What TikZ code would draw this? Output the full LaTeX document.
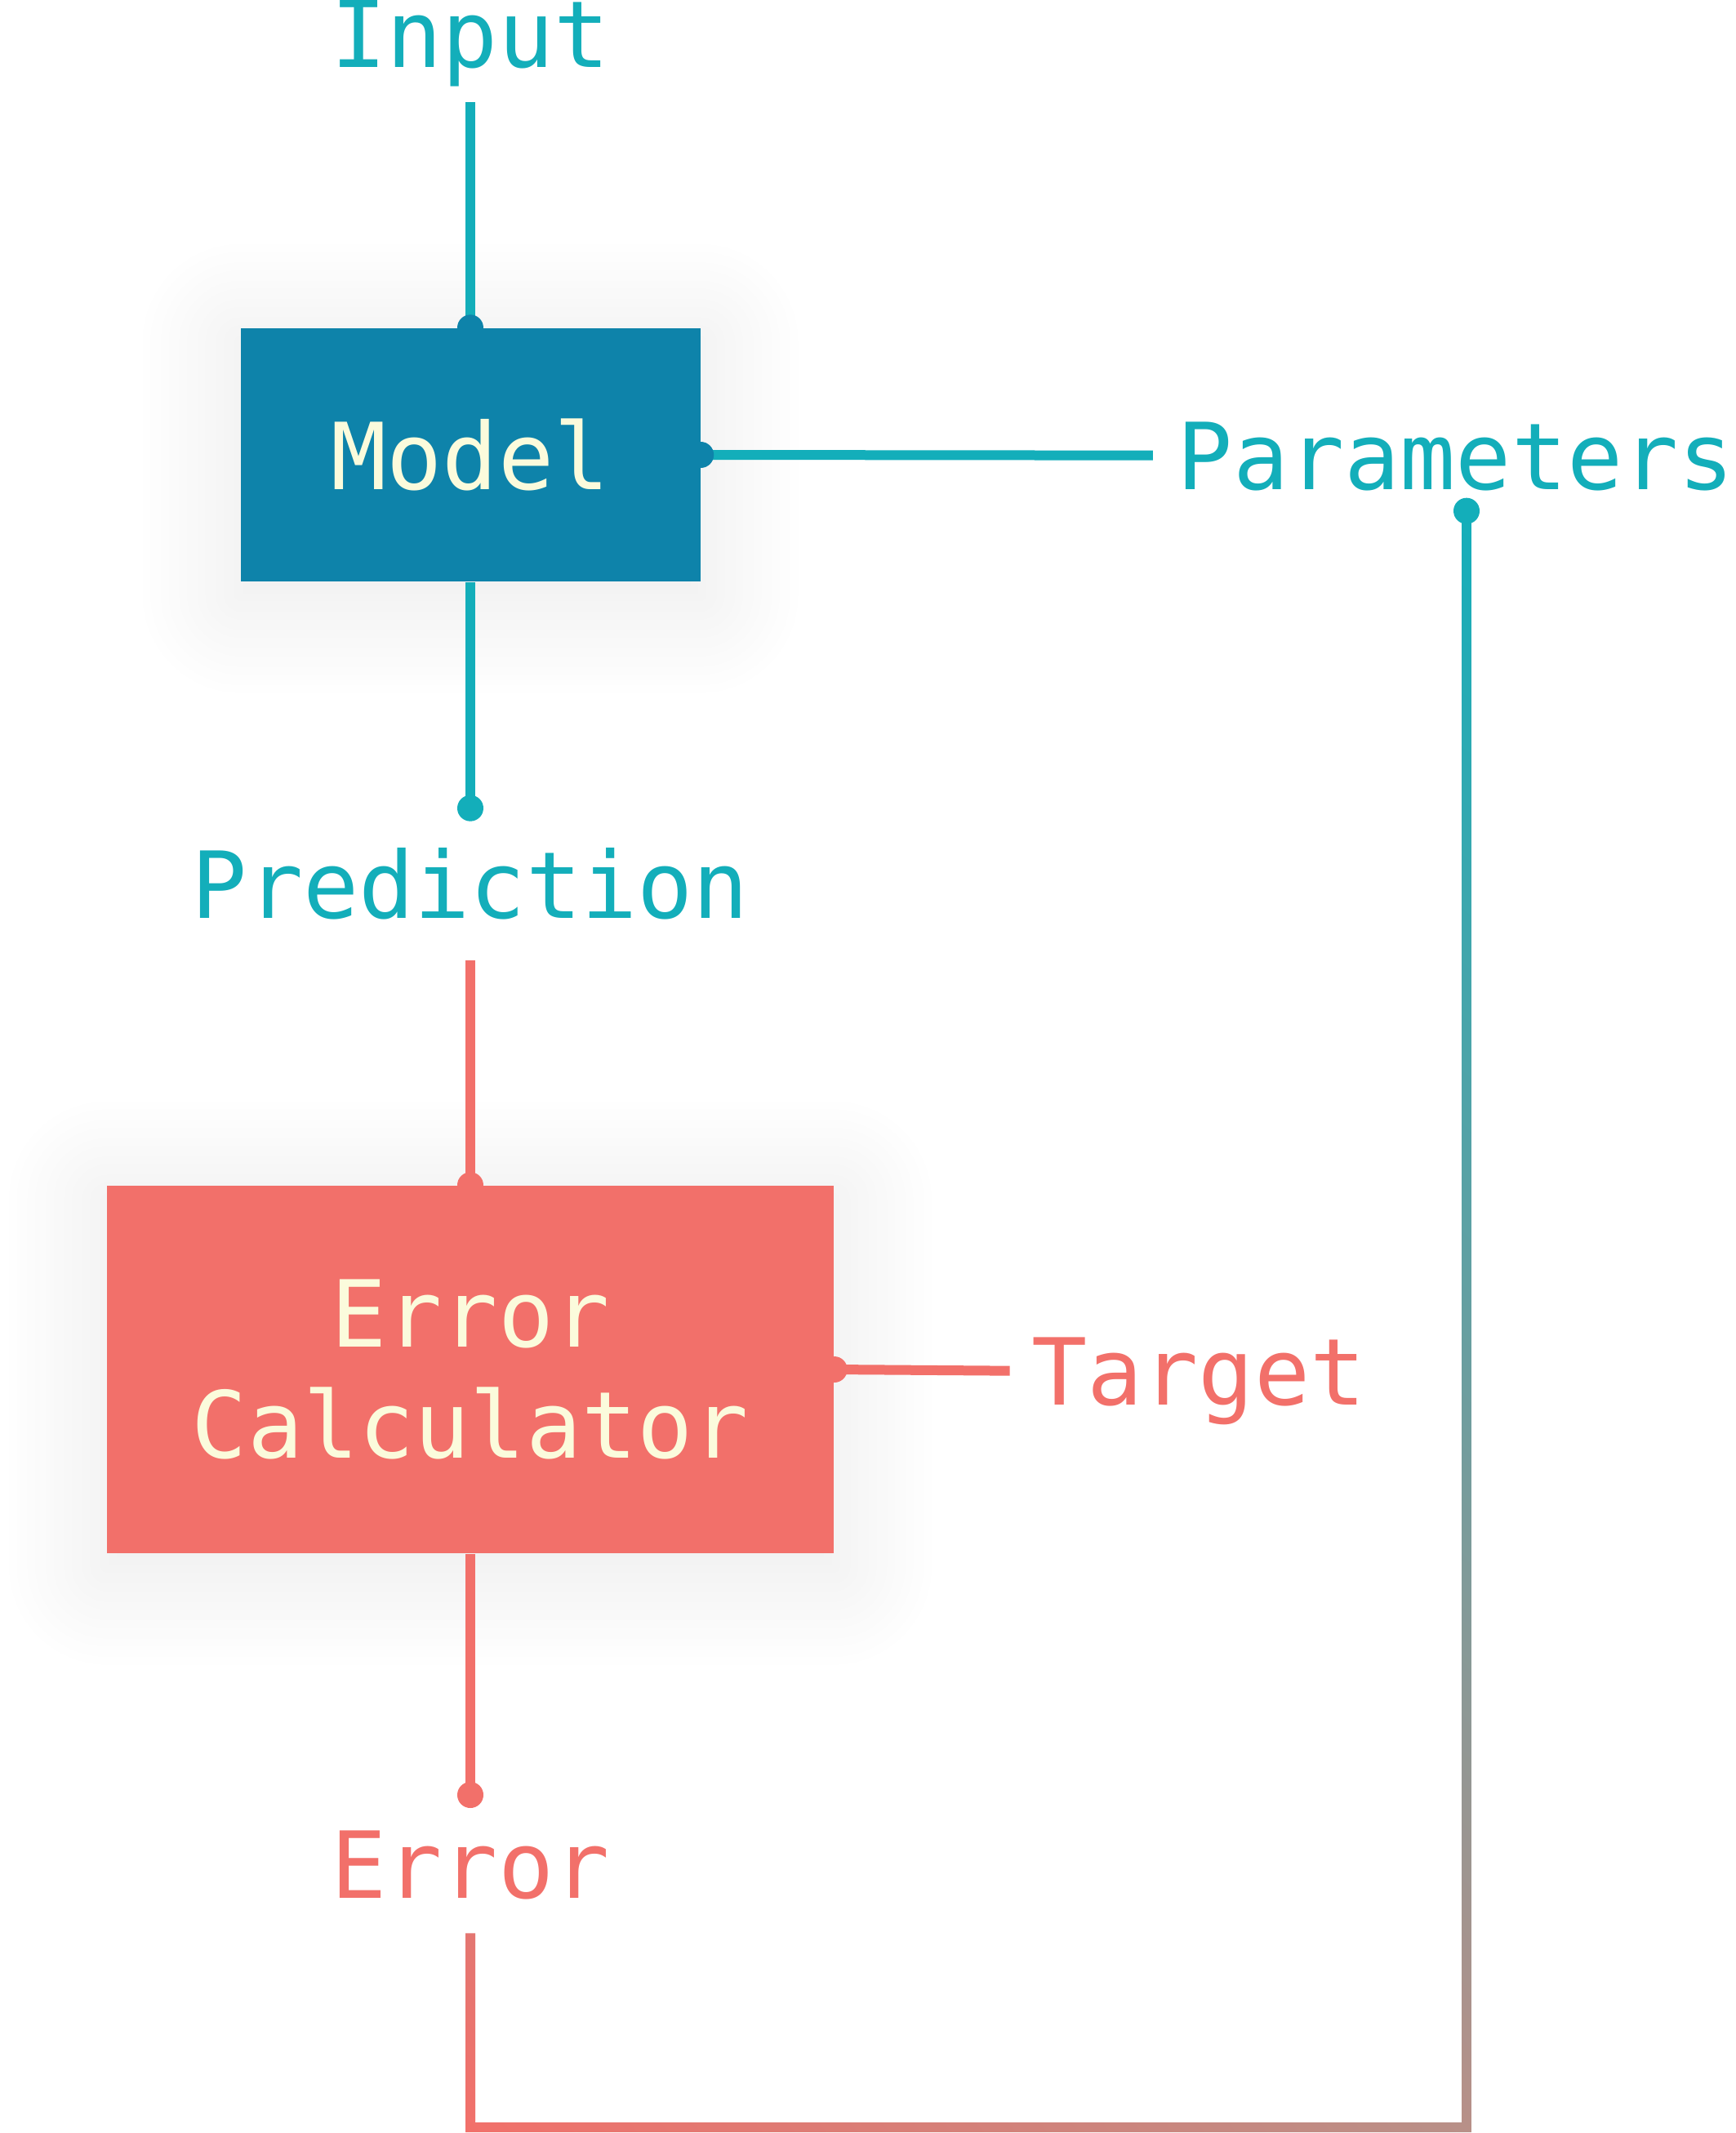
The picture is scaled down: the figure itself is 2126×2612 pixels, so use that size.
\documentclass[tikz,border=0pt]{standalone}
\usepackage{fontspec}
\newfontfamily\monofont{DejaVu Sans Mono}
\usetikzlibrary{calc,shadings,shadows.blur}

\definecolor{flowteal}{HTML}{13AEBA}
\definecolor{modelblue}{HTML}{0E83AA}
\definecolor{errcoral}{HTML}{F2706A}
\definecolor{boxcream}{HTML}{FBFBDC}
\definecolor{fbgrey}{HTML}{B89088}
\definecolor{fbmid}{HTML}{7FA3A3}

\def\px{0.3pt}

\tikzset{
    labeltext/.style={font=\monofont\fontsize{34pt}{40.8pt}\selectfont, inner sep=0pt,
        text height=24.8pt, text depth=0pt, outer sep=15pt},
    block/.style={rectangle, inner sep=0pt, align=center, text=boxcream,
        font=\monofont\fontsize{34pt}{40.8pt}\selectfont,
        blur shadow={shadow blur radius=38pt, shadow opacity=9, shadow xshift=0pt,
            shadow yshift=-5pt, shadow blur steps=40}},
    wire/.style={line width=12*\px},
}

\begin{document}
\begin{tikzpicture}[x=\px, y=-\px]

    \useasboundingbox (0,0) rectangle (2126,2612);

    % the two blocks
    \node[block, fill=modelblue, minimum width=563*\px, minimum height=310*\px] (model) at (576,557) {Model};
    \node[block, fill=errcoral, minimum width=890*\px, minimum height=450*\px] (errcalc) at (576,1677) {Error\\Calculator};

    % labels
    \node[labeltext, text=flowteal, anchor=base, outer ysep=13pt] (input) at (576,82) {Input};
    \node[labeltext, text=flowteal, anchor=base, outer xsep=9pt, outer ysep=8pt] (params) at (1783,599) {Parameters};
    \node[labeltext, text=flowteal, anchor=base, outer ysep=15.5pt] (pred) at (576,1124) {Prediction};
    \node[labeltext, text=errcoral, anchor=base, outer xsep=8pt] (target) at (1468,1720) {Target};
    \node[labeltext, text=errcoral, anchor=base, outer ysep=13pt] (error) at (576,2324) {Error};
    \coordinate (pdot) at ([xshift=3.9pt]params.south);

    % connectors
    \draw[wire, flowteal] (input.south) -- (model.north);
    \draw[wire, flowteal] (model.east) -- (params.west);
    \draw[wire, flowteal] (model.south) -- (pred.north);
    \draw[wire, errcoral] (pred.south) -- (errcalc.north);
    \draw[wire, errcoral] (errcalc.east) -- (target.west);
    \draw[wire, errcoral] (errcalc.south) -- (error.north);

    % feedback from error back to the parameters
    \coordinate (fbbase) at (0,2605);
    \begin{scope}
        \clip ($(error.south)+(-6,0)$) rectangle ($(error.south |- fbbase)+(6,6)$)
              ($(error.south |- fbbase)+(-6,-6)$) rectangle ($(pdot |- fbbase)+(6,6)$)
              ($(pdot)+(-6,0)$) rectangle ($(pdot |- fbbase)+(6,6)$);
        \shade[shading=bilinear interpolation, upper left=fbmid, upper right=flowteal,
            lower left=errcoral, lower right=fbgrey]
            ($(error.south |- pdot)+(-6,0)$) rectangle ($(pdot |- fbbase)+(6,6)$);
    \end{scope}

    % end dots
    \fill[modelblue] (model.north) circle (16);
    \fill[modelblue] (model.east) circle (16);
    \fill[flowteal] (pred.north) circle (16);
    \fill[flowteal] (pdot) circle (16);
    \fill[errcoral] (errcalc.north) circle (16);
    \fill[errcoral] (errcalc.east) circle (16);
    \fill[errcoral] (error.north) circle (16);

\end{tikzpicture}
\end{document}
